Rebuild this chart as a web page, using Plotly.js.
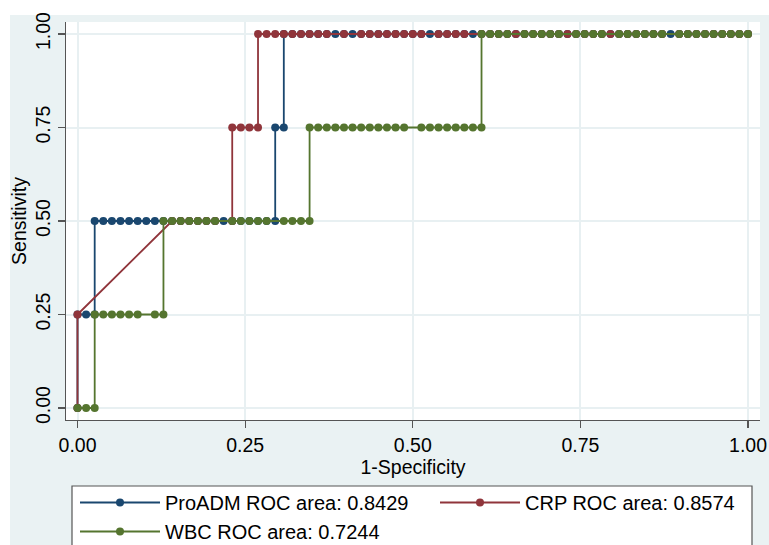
<!DOCTYPE html>
<html>
<head>
<meta charset="utf-8">
<script src="https://cdn.plot.ly/plotly-3.0.1.min.js"></script>
<style>html,body{margin:0;padding:0;background:#fff;}#chart{width:769px;height:545px;}</style>
</head>
<body>
<div id="chart"></div>
<script>
// Number of negatives (controls) and positives (cases) in the ROC analysis
const nNeg = 78;
const nPos = 4;

// ProADM: false-positive counts and true-positive counts at each cut-point
const proadmFP = [0,0,1,2,2,3,4,5,6,7,8,9,10,11,12,13,14,15,16,17,18,19,20,21,22,23,
  23,24,24,25,26,27,28,29,30,31,32,33,34,35,36,37,38,39,40,41,42,43,44,45,46,47,48,49,50,
  51,52,53,54,55,56,57,58,59,60,61,62,63,64,65,66,67,68,69,70,71,72,73,74,75,76,77,78];
const proadmTP = [0,1,1,1,
  2,2,2,2,2,2,2,2,2,2,2,2,2,2,2,2,2,2,2,2,2,2,
  3,3,
  4,4,4,4,4,4,4,4,4,4,4,
  4,4,4,4,4,4,4,4,4,4,4,
  4,4,4,4,4,4,4,4,4,4,4,
  4,4,4,4,4,4,4,4,4,4,4,
  4,4,4,4,4,4,4,4,4,4,4];

// CRP
const crpFP = [0,0,11,12,13,14,15,16,18,18,19,20,21,21,
  22,23,24,25,26,27,28,29,31,33,34,35,36,37,38,39,40,42,43,44,45,
  47,48,49,50,51,52,53,54,55,56,57,58,59,60,61,62,63,64,65,66,67,68,
  70,71,72,73,74,75,76,77,78];
const crpTP = [0,1,2,2,2,2,2,2,2,3,3,3,3,
  4,4,4,4,4,4,4,4,4,4,4,
  4,4,4,4,4,4,4,4,4,4,4,
  4,4,4,4,4,4,4,4,4,4,4,
  4,4,4,4,4,4,4,4,4,4,4,
  4,4,4,4,4,4,4,4,4];

// WBC
const wbcFP = [0,1,2,2,3,4,5,6,7,9,10,10,11,12,13,14,15,16,18,19,20,21,22,24,25,26,27,
  27,28,29,30,31,32,33,34,35,36,37,38,40,41,42,43,44,45,46,47,
  47,48,49,50,52,53,54,55,56,58,59,60,61,63,64,65,66,67,68,70,71,72,73,74,75,76,77,78];
const wbcTP = [0,0,0,
  1,1,1,1,1,1,1,1,
  2,2,2,2,2,2,2,2,2,2,2,2,2,2,2,2,
  3,3,3,3,3,3,3,3,3,3,3,3,3,3,3,3,3,3,3,3,
  4,4,4,4,4,4,4,4,4,4,4,4,4,4,4,4,4,4,4,4,4,4,4,4,4,4,4,4];

const seriesNames = ["ProADM ROC area: 0.8429", "CRP ROC area: 0.8574", "WBC ROC area: 0.7244"];
const seriesColors = ["#1a476f", "#90353b", "#55752f"];
const tickVals = [0, 0.25, 0.5, 0.75, 1];
const tickText = ["0.00", "0.25", "0.50", "0.75", "1.00"];

const FONT = "Liberation Sans, Arial, Helvetica, sans-serif";

function mk(fp, tp, i, legendId) {
  return {
    x: fp.map(v => v / nNeg),
    y: tp.map(v => v / nPos),
    type: "scatter",
    mode: "lines+markers",
    name: seriesNames[i],
    legend: legendId,
    line: {color: seriesColors[i], width: 1.8},
    marker: {color: seriesColors[i], size: 8, symbol: "circle"},
    hoverinfo: "x+y"
  };
}

const traces = [
  mk(proadmFP, proadmTP, 0, "legend"),
  mk(crpFP, crpTP, 1, "legend2"),
  mk(wbcFP, wbcTP, 2, "legend")
];

const L = 66, R = 9, T = 22, B = 125, W = 769, H = 545;
const pw = W - L - R, ph = H - T - B;
const px = v => (v - L) / pw;
const py = v => (H - B - v) / ph;

const layout = {
  width: W, height: H,
  margin: {l: L, r: R, t: T, b: B, pad: 0, autoexpand: false},
  paper_bgcolor: "#ffffff",
  plot_bgcolor: "#ffffff",
  font: {family: FONT, color: "#000000", size: 19.5},
  showlegend: true,
  xaxis: {
    range: [-0.01715, 1.0179],
    tickvals: tickVals, ticktext: tickText,
    showgrid: true, gridcolor: "#e8f0f2", gridwidth: 2,
    zeroline: false,
    showline: true, linecolor: "#555555", linewidth: 1.2,
    ticks: "outside", ticklen: 7, tickcolor: "#555555", tickwidth: 1.2,
    tickfont: {family: FONT, size: 19.5, color: "#000"},
    title: {text: "1-Specificity", font: {family: FONT, size: 19.5, color: "#000"}, standoff: 2},
    automargin: false
  },
  yaxis: {
    range: [-0.0321, 1.0321],
    tickvals: tickVals, ticktext: tickText,
    tickangle: -90,
    showgrid: true, gridcolor: "#e8f0f2", gridwidth: 2,
    zeroline: false,
    showline: true, linecolor: "#555555", linewidth: 1.2,
    ticks: "outside", ticklen: 7, tickcolor: "#555555", tickwidth: 1.2,
    tickfont: {family: FONT, size: 19.5, color: "#000"},
    title: {text: "Sensitivity", font: {family: FONT, size: 19.5, color: "#000"}, standoff: 0},
    automargin: false
  },
  shapes: [
    {type: "rect", xref: "paper", yref: "paper", layer: "below",
     x0: px(10), x1: px(775), y0: py(15), y1: py(560),
     fillcolor: "#eaf2f3", line: {width: 0}},
    {type: "rect", xref: "paper", yref: "paper", layer: "below",
     x0: 0, x1: 1, y0: 0, y1: 1,
     fillcolor: "#ffffff", line: {width: 0}},
    {type: "rect", xref: "paper", yref: "paper", layer: "below",
     x0: px(72), x1: px(752), y0: py(486), y1: py(560),
     fillcolor: "#ffffff", line: {color: "#555555", width: 1.2}}
  ],
  legend: {
    x: px(75), y: py(483), xanchor: "left", yanchor: "top",
    orientation: "v", bgcolor: "rgba(0,0,0,0)", borderwidth: 0,
    font: {family: FONT, size: 20, color: "#000"},
    itemwidth: 80, tracegroupgap: 0
  },
  legend2: {
    x: px(435), y: py(483), xanchor: "left", yanchor: "top",
    orientation: "v", bgcolor: "rgba(0,0,0,0)", borderwidth: 0,
    font: {family: FONT, size: 20, color: "#000"},
    itemwidth: 80
  }
};

Plotly.newPlot("chart", traces, layout, {displayModeBar: false, staticPlot: true});
</script>
</body>
</html>
